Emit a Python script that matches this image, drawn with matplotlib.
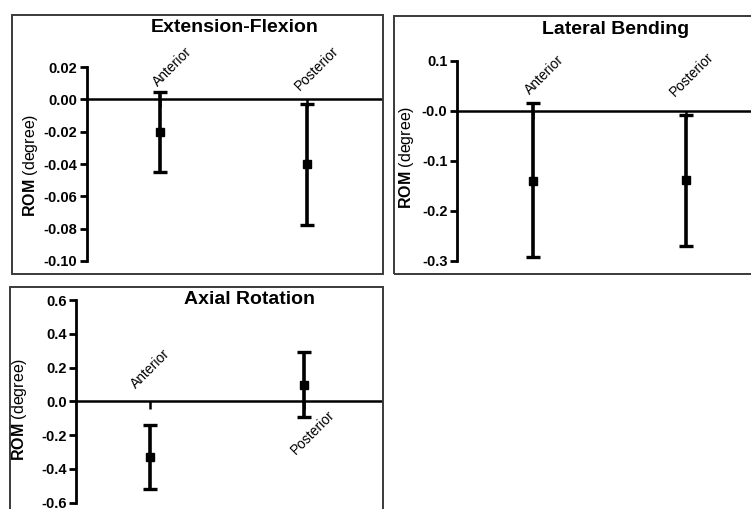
import matplotlib
matplotlib.use('Agg')
import matplotlib.pyplot as plt
from matplotlib.patches import Rectangle

plt.rcParams['font.family'] = ['Liberation Sans', 'DejaVu Sans']
plt.rcParams['mathtext.fontset'] = 'custom'
plt.rcParams['mathtext.rm'] = 'Liberation Sans'
plt.rcParams['mathtext.bf'] = 'Liberation Sans:bold'

# 数据
groups = ['Anterior', 'Posterior']

ef_mean = [-0.020, -0.040]
ef_upper = [0.0045, -0.003]
ef_lower = [-0.045, -0.0775]

lb_mean = [-0.141, -0.139]
lb_upper = [0.015, -0.009]
lb_lower = [-0.292, -0.270]

ar_mean = [-0.329, 0.097]
ar_upper = [-0.138, 0.290]
ar_lower = [-0.517, -0.092]

ef_ticks = [0.02, 0.00, -0.02, -0.04, -0.06, -0.08, -0.10]
ef_ticklabels = ['0.02', '0.00', '-0.02', '-0.04', '-0.06', '-0.08', '-0.10']
lb_ticks = [0.1, 0.0, -0.1, -0.2, -0.3]
lb_ticklabels = ['0.1', '-0.0', '-0.1', '-0.2', '-0.3']
ar_ticks = [0.6, 0.4, 0.2, 0.0, -0.2, -0.4, -0.6]
ar_ticklabels = ['0.6', '0.4', '0.2', '0.0', '-0.2', '-0.4', '-0.6']

W, H = 751, 509
fig = plt.figure(figsize=(W / 100, H / 100), dpi=100)


def px_rect(x0, y0, x1, y1):
    # 像素坐标 -> figure 坐标
    return [x0 / W, 1 - y1 / H, (x1 - x0) / W, (y1 - y0) / H]


def draw_box(x0, y0, x1, y1):
    r = px_rect(x0, y0, x1, y1)
    fig.add_artist(Rectangle((r[0], r[1]), r[2], r[3], transform=fig.transFigure,
                             fill=False, ec='#3a3a3a', lw=1.4))


def draw_panel(rect, xlim, mean, upper, lower, ticks, ticklabels, title, title_xy,
               ylabel_xy, label_pos):
    ax = fig.add_axes(px_rect(*rect))
    x = list(range(len(groups)))
    yerr = [[m - l for m, l in zip(mean, lower)], [u - m for m, u in zip(mean, upper)]]
    ax.errorbar(x, mean, yerr=yerr, fmt='s', color='black', ms=6, elinewidth=2.6,
                capsize=5, capthick=2.4, zorder=3, clip_on=False)
    ax.set_xlim(xlim)
    ax.set_ylim(ticks[-1], ticks[0])
    ax.set_yticks(ticks)
    ax.set_yticklabels(ticklabels, fontweight='bold', fontsize=10.5)
    ax.set_xticks(x)
    ax.set_xticklabels([])
    for s in ['top', 'right']:
        ax.spines[s].set_visible(False)
    ax.spines['left'].set_linewidth(2)
    ax.spines['bottom'].set_position(('data', 0))
    ax.spines['bottom'].set_linewidth(1.8)
    ax.tick_params(axis='y', direction='out', length=5, width=2, pad=1.5)
    ax.tick_params(axis='x', direction='out', length=6, width=1.8)
    ax.patch.set_alpha(0)
    for i, (dx, dy, ha, va) in enumerate(label_pos):
        ax.annotate(groups[i], xy=(i, 0), xytext=(dx, dy), textcoords='offset pixels',
                    ha=ha, va=va, rotation=45, fontsize=10)
    fig.text(title_xy[0] / W, 1 - title_xy[1] / H, title, ha='center', va='center',
             fontsize=14, fontweight='bold')
    fig.text(ylabel_xy[0] / W, 1 - ylabel_xy[1] / H, r'$\bf{ROM}$ (degree)', rotation=90,
             ha='center', va='center', fontsize=11.5)
    return ax


# 边框
draw_box(12, 15, 383, 274)
draw_box(394, 16, 753, 274)
draw_box(10, 287, 383, 512)

# Extension-Flexion
draw_panel((86.5, 67, 380.5, 261), (-0.5, 1.5), ef_mean, ef_upper, ef_lower,
           ef_ticks, ef_ticklabels, 'Extension-Flexion', (235, 28), (31, 165),
           [(35, 55, 'right', 'top'), (35, 56, 'right', 'top')])

# Lateral Bending
draw_panel((456.5, 60.7, 751, 260.7), (-0.5, 1.425), lb_mean, lb_upper, lb_lower,
           lb_ticks, lb_ticklabels, 'Lateral Bending', (616, 30), (406, 157),
           [(34, 58, 'right', 'top'), (31, 61, 'right', 'top')])

# Axial Rotation
draw_panel((76, 300, 381, 502.7), (-0.48, 1.5), ar_mean, ar_upper, ar_lower,
           ar_ticks, ar_ticklabels, 'Axial Rotation', (249, 299), (20, 409),
           [(23, 55, 'right', 'top'), (-16, -6, 'left', 'top')])

fig.savefig('out.png', dpi=100)
